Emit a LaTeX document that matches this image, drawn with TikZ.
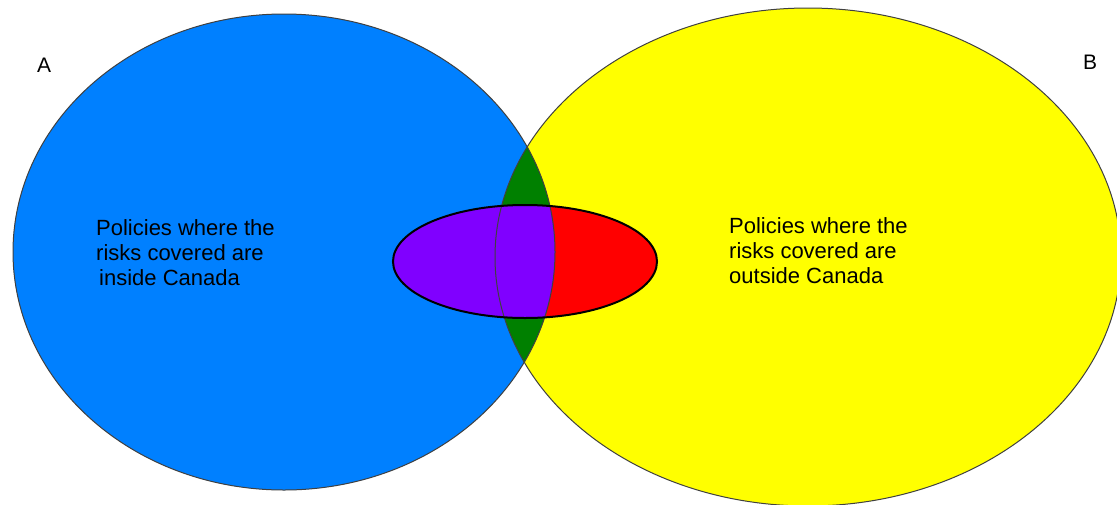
\documentclass[tikz,border=0pt]{standalone}
\usepackage{fontspec}
\setmainfont{Liberation Sans}
\usepackage{xcolor}
\definecolor{vb}{HTML}{0080FF}
\definecolor{vy}{HTML}{FFFF00}
\definecolor{vg}{HTML}{008000}
\definecolor{vp}{HTML}{8000FF}
\definecolor{vr}{HTML}{FF0000}
\definecolor{vo}{HTML}{404040}

\begin{document}
\begin{tikzpicture}[x=1pt,y=1pt,
    setlabel/.style={inner sep=0pt,anchor=base west,font=\fontsize{21}{25}\selectfont},
    settext/.style={inner sep=0pt,anchor=north west,align=left,font=\fontsize{22}{25}\selectfont}]
  \clip (0,0) rectangle (1117,-504);
  \fill[white] (0,0) rectangle (1117,-504);

  % Set A (blue) and set B (yellow)
  \fill[vb] (284,-252) ellipse (271 and 238);
  \fill[vy] (808,-257) ellipse (313 and 249);

  % A and B together (green)
  \begin{scope}
    \clip (284,-252) ellipse (271 and 238);
    \fill[vg] (808,-257) ellipse (313 and 249);
  \end{scope}

  % Small ellipse: red outside A, purple inside A
  \fill[vr] (525,-261.5) ellipse (132 and 56.5);
  \begin{scope}
    \clip (284,-252) ellipse (271 and 238);
    \fill[vp] (525,-261.5) ellipse (132 and 56.5);
  \end{scope}

  % Outlines
  \draw[vo,line width=1pt] (284,-252) ellipse (271 and 238);
  \draw[vo,line width=1pt] (808,-257) ellipse (313 and 249);
  \draw[black,line width=2pt] (525,-261.5) ellipse (132 and 56.5);

  % Set names
  \node[setlabel] (labA) at (37,-72) {A};
  \node[setlabel] (labB) at (1083,-69) {B};

  % Texts
  \node[settext] (textA) at (96,-219) {Policies where the\\risks covered are\\\hspace*{3pt}inside Canada};
  \node[settext] (textB) at (729,-217) {Policies where the\\risks covered are\\outside Canada};
\end{tikzpicture}
\end{document}
